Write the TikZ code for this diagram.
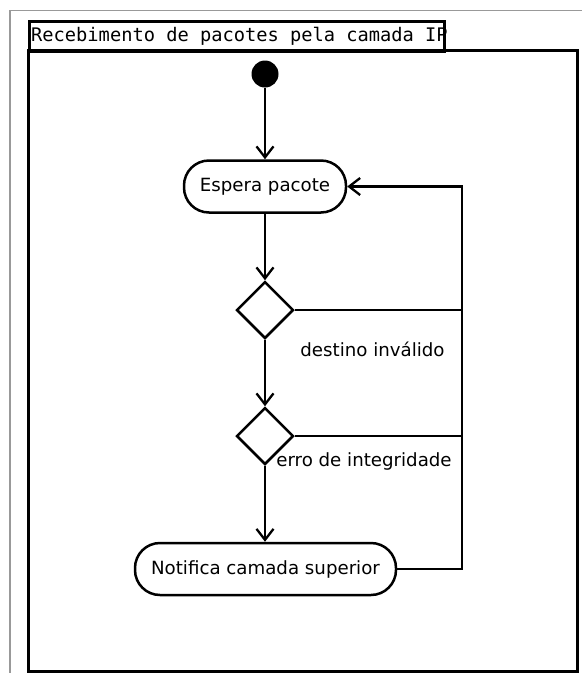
\documentclass[tikz,border=0pt]{standalone}
\usepackage{fontspec}
\setmainfont{DejaVu Sans}
\newfontfamily\monofont{DejaVu Sans Mono}
\usetikzlibrary{arrows.meta,shapes.geometric}
\begin{document}
\begin{tikzpicture}[x=1pt,y=-1pt,
  flow/.style={line width=2.5pt,-{Straight Barb[length=11pt,width=17pt,line width=2.3pt]}},
  link/.style={line width=2.5pt},
  action/.style={draw,line width=2.5pt,rounded corners=25pt,minimum height=52pt,
    inner sep=0pt,font=\fontsize{18.2pt}{20pt}\selectfont},
  decision/.style={draw,diamond,line width=2.5pt,minimum width=57pt,minimum height=57pt,
    inner sep=0pt},
  guard/.style={font=\fontsize{18.2pt}{20pt}\selectfont,inner sep=0pt}]
\useasboundingbox (0,0) rectangle (582,673);
% outer page rules
\draw[gray!80,line width=1.2pt] (10,673) -- (10,10.5) -- (582,10.5);
% activity frame and its title tab
\draw[line width=3pt] (28,50) rectangle (577,671);
\node[anchor=west,inner sep=0pt,font=\monofont\fontsize{18.7pt}{20pt}\selectfont]
  (title) at (31,36) {Recebimento de pacotes pela camada IP};
\node[draw,line width=2.6pt,anchor=north west,minimum width=415pt,minimum height=30pt,
  inner sep=0pt] (tab) at (28,20) {};
% nodes
\node[circle,fill=black,minimum size=27pt,inner sep=0pt] (start) at (265,74) {};
\node[action,minimum width=162pt] (wait) at (265,186.5) {Espera pacote};
\node[decision] (d1) at (265,310) {};
\node[decision] (d2) at (265,436) {};
\node[action,minimum width=261pt] (notify) at (265.5,569) {Notifica camada superior};
\coordinate (loop) at (462,186.5);
% guard labels
\node[guard] (g1) at (372.5,349) {destino inválido};
\node[guard] (g2) at (364,461) {erro de integridade};
% connectors
\draw[flow] (start) -- (wait);
\draw[flow] (wait) -- (d1);
\draw[flow] (d1) -- (d2);
\draw[flow] (d2) -- (d2 |- notify.north);
\draw[link] (d1.east) -- (d1.east -| loop);
\draw[link] (d2.east) -- (d2.east -| loop);
\draw[flow] (notify.east) -| (loop) -- (wait.east);
\end{tikzpicture}
\end{document}
